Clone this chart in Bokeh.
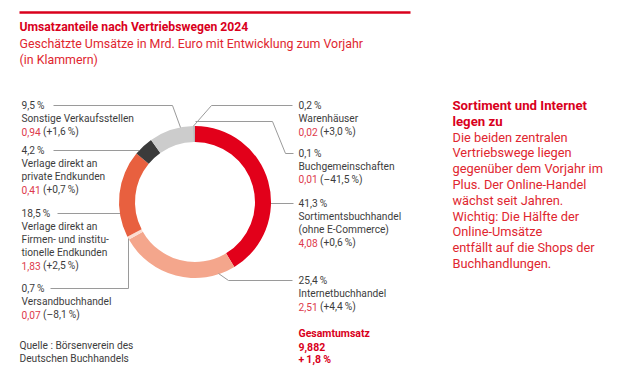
import numpy as np
from bokeh.plotting import figure
from bokeh.models import Range1d, ColumnDataSource
from bokeh.core.properties import value
from bokeh.embed import file_html
from bokeh.resources import INLINE

# ---------------- data ----------------
channels = ["Sortimentsbuchhandel", "Internetbuchhandel", "Versandbuchhandel",
            "Verlage Firmen", "Verlage privat", "Sonstige Verkaufsstellen",
            "Warenhäuser", "Buchgemeinschaften"]
share_pct = [41.3, 25.4, 0.7, 18.5, 4.2, 9.5, 0.2, 0.1]
revenue = [4.08, 2.51, 0.07, 1.83, 0.41, 0.94, 0.02, 0.01]
change_pct = [0.6, 4.4, -8.1, 2.5, 0.7, 1.6, 3.0, -41.5]
label_lines = [["Sortimentsbuchhandel", "(ohne E-Commerce)"],
               ["Internetbuchhandel"],
               ["Versandbuchhandel"],
               ["Verlage direkt an", "Firmen- und institu-", "tionelle Endkunden"],
               ["Verlage direkt an", "private Endkunden"],
               ["Sonstige Verkaufsstellen"],
               ["Warenhäuser"],
               ["Buchgemeinschaften"]]
slice_colors = ["#e2001a", "#f4a68c", "#fbdcd0", "#e8603f", "#3b3b3b",
                "#cccccc", "#8a8a8a", "#b0b0b0"]
total_revenue = "9,882"
total_change = "+\u20091,8\u2009%"

# ---------------- layout helpers ----------------
W, H = 630, 370
FONT = value("Roboto")
GREY = "#3d3d3d"
RED = "#d9001c"
RED_TXT = "#e0262f"
RED_VAL = "#dd3a4c"
LINE = "#9a9a9a"

def Y(py):
    return H - py

def num(v, d=1):
    return f"{v:.{d}f}".replace(".", ",")

def chg(v):
    sign = "+" if v >= 0 else "\u2013"
    return f"({sign}{num(abs(v))}\u2009%)"

p = figure(width=W, height=H, x_range=Range1d(0, W), y_range=Range1d(0, H),
           output_backend="svg", toolbar_location=None, min_border=0)
p.axis.visible = False
p.grid.visible = False
p.outline_line_color = None
p.background_fill_color = "white"
p.border_fill_color = "white"

# ---------------- donut ----------------
fr = np.array(share_pct) / np.sum(share_pct)
cum = np.concatenate([[0], np.cumsum(fr)[:-1]])
start = np.pi / 2 - 2 * np.pi * cum
end = np.pi / 2 - 2 * np.pi * (cum + fr)
cx, cy = 194.5, Y(201.5)
src = ColumnDataSource(dict(start=start, end=end, color=slice_colors))
p.annular_wedge(x=cx, y=cy, inner_radius=60, outer_radius=76,
                inner_radius_units="screen", outer_radius_units="screen",
                start_angle="start", end_angle="end", direction="clock",
                fill_color="color", line_color=None, source=src)

# ---------------- header ----------------
p.line([19, 410], [Y(12), Y(12)], line_color=RED, line_width=2.5)
p.text([19], [Y(26.5)], text=["Umsatzanteile nach Vertriebswegen 2024"], text_font=FONT,
       text_font_style="bold", text_font_size="12.2px", text_color=RED,
       text_baseline="middle")
p.text([19, 19], [Y(43), Y(59)],
       text=["Geschätzte Umsätze in Mrd. Euro mit Entwicklung zum Vorjahr", "(in Klammern)"],
       text_font=FONT, text_font_size="12.4px", text_color=RED_TXT, text_baseline="middle")

# ---------------- labels ----------------
anchors = [(298, 203), (298, 280), (21, 288), (21, 213), (21, 150), (21, 105),
           (298, 105), (298, 152.5)]
LH = 13
FS = "10.2px"
VAL_OFF = 21.5
for i, (ax, ay) in enumerate(anchors):
    lines = [num(share_pct[i]) + "\u2009%"] + label_lines[i]
    ys = [Y(ay + k * LH) for k in range(len(lines))]
    p.text([ax] * len(lines), ys, text=lines, text_font=FONT, text_font_size=FS,
           text_color=GREY, text_baseline="middle")
    yv = Y(ay + len(lines) * LH)
    p.text([ax], [yv], text=[num(revenue[i], 2)], text_font=FONT, text_font_size=FS,
           text_color=RED_VAL, text_baseline="middle")
    p.text([ax + VAL_OFF], [yv], text=[chg(change_pct[i])], text_font=FONT,
           text_font_size=FS, text_color=GREY, text_baseline="middle")

# leader lines (page coordinates)
leaders = [
    [(270.5, 203), (293, 203)],
    [(218, 273), (228, 280), (292, 280)],
    [(50, 288), (128, 288), (128, 238)],
    [(57, 213), (119.5, 213)],
    [(53, 150), (138.5, 150)],
    [(53, 105), (172, 105), (180, 127)],
    [(292, 105), (211, 105), (193, 125.5)],
    [(195, 121), (272, 121), (285, 153), (293, 153)],
]
for pts in leaders:
    p.line([q[0] for q in pts], [Y(q[1]) for q in pts], line_color=LINE, line_width=1)

# total
p.text([298] * 3, [Y(333), Y(346), Y(358.5)],
       text=["Gesamtumsatz", total_revenue, total_change], text_font=FONT,
       text_font_style="bold", text_font_size="10.5px", text_color=RED,
       text_baseline="middle")

# source
p.text([19, 19], [Y(345), Y(357.5)],
       text=["Quelle : Börsenverein des", "Deutschen Buchhandels"],
       text_font=FONT, text_font_size=FS, text_color=GREY, text_baseline="middle")

# side text
side_bold = ["Sortiment und Internet", "legen zu"]
side_text = ["Die beiden zentralen", "Vertriebswege liegen", "gegenüber dem Vorjahr im",
             "Plus. Der Online-Handel", "wächst seit Jahren.", "Wichtig: Die Hälfte der",
             "Online-Umsätze", "entfällt auf die Shops der", "Buchhandlungen."]
SLH = 15.8
p.text([452] * 2, [Y(105 + k * SLH) for k in range(2)], text=side_bold, text_font=FONT,
       text_font_style="bold", text_font_size="13.2px", text_color=RED,
       text_baseline="middle")
p.text([452] * len(side_text), [Y(105 + (k + 2) * SLH) for k in range(len(side_text))],
       text=side_text, text_font=FONT, text_font_size="12.8px", text_color=RED_TXT,
       text_baseline="middle")

open("out.html", "w").write(file_html(p, INLINE))
